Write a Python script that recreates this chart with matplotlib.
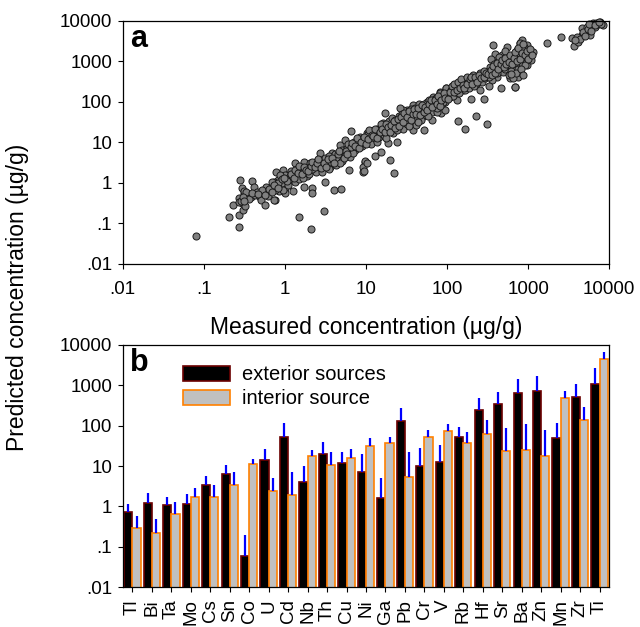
import numpy as np
import matplotlib
matplotlib.use('Agg')
import matplotlib.pyplot as plt
from matplotlib.patches import Patch

# ---- panel a: measured vs predicted (log10 of ug/g) ----
meas_log10 = [
    -1.10, -0.56, -0.69, -0.56, -0.64, -0.55, -0.40, -0.38, -0.53, -0.51, -0.56, -0.49,
    -0.53, -0.52, -0.47, -0.42, -0.37, -0.31, -0.26, -0.29, -0.25, -0.23, -0.19, -0.12,
    -0.18, -0.10, -0.08, -0.05, 0.00, 0.02, -0.11, -0.02, 0.03, 0.00, -0.49, -0.57,
    -0.54, -0.50, -0.45, -0.35, -0.28, -0.21, -0.15, -0.07, -0.03, -0.14,
    -0.14, -0.02, -0.12, -0.16, 0.00, -0.08, 0.06, 0.12, 0.19, 0.23, 0.27, 0.12,
    0.04, 0.10, 0.23, 0.33, 0.34, 0.35, 0.43, 0.47, 0.49, 0.56, 0.58, 0.60,
    0.69, 0.64, 0.68, 0.72, 0.74, 0.80, 0.82, 0.84, 0.88, 0.93, 0.96, 0.99,
    0.79, 1.01, 0.48, 0.32, 0.17,
    -0.06, 0.05, 0.08, 0.14, 0.17, 0.20, 0.25, 0.28, 0.30, 0.31, 0.36, 0.38,
    0.40, 0.42, 0.45, 0.50, 0.52, 0.54, 0.55, 0.60, 0.62, 0.63, 0.66, 0.70,
    0.71, 0.74, 0.76, 0.78, 0.82, 0.85, 0.87, 0.90, 0.92, 0.95, 0.97, 0.15,
    0.22, 0.09, 0.33, 0.46, 0.57, 0.68,
    1.23, 1.29, 1.34, 1.11, 1.18, 0.99, 0.96, 1.38, 1.27, 0.88, 1.01, 1.13,
    1.21, 1.33, 1.42, 1.50, 1.58, 1.66, 1.75, 1.83, 1.91, 1.99, 1.89, 1.79,
    1.69, 1.71, 1.58, 1.46, 1.33, 1.21, 1.05, 0.92, 0.84, 1.46, 1.42, 1.56,
    1.62, 1.81, 1.95, 2.01, 1.93, 1.85, 0.97, 1.01,
    1.03, 1.06, 1.08, 1.10, 1.12, 1.15, 1.16, 1.19, 1.22, 1.24, 1.26, 1.28,
    1.30, 1.32, 1.35, 1.36, 1.38, 1.40, 1.41, 1.44, 1.45, 1.48, 1.50, 1.52,
    1.54, 1.55, 1.57, 1.60, 1.61, 1.63, 1.65, 1.67, 1.68, 1.70, 1.72, 1.74,
    1.76, 1.78, 1.80, 1.82, 1.84, 1.86, 1.88, 1.90, 1.92, 1.94, 1.97, 1.98,
    1.06, 1.14, 1.25, 1.37, 1.49, 1.53, 1.64, 1.77, 1.87,
    2.57, 2.59, 2.54, 2.74, 2.90, 2.92, 2.96, 3.00, 2.78, 2.84, 2.66, 2.46,
    2.36, 2.49, 2.13, 2.22, 1.83, 1.91, 1.99, 2.08, 2.16, 2.24, 2.32, 2.41,
    2.49, 2.57, 2.65, 2.74, 2.82, 2.88, 2.94, 2.69, 2.61, 2.55, 2.28, 2.20,
    2.04, 1.95, 1.87, 1.97, 2.12, 2.36, 2.30, 2.86, 2.80, 2.68, 2.98,
    2.02, 2.05, 2.07, 2.10, 2.11, 2.14, 2.15, 2.18, 2.19, 2.22, 2.23, 2.26,
    2.27, 2.30, 2.33, 2.34, 2.38, 2.40, 2.43, 2.44, 2.47, 2.50, 2.52, 2.53,
    2.56, 2.58, 2.60, 2.62, 2.63, 2.67, 2.70, 2.72, 2.75, 2.77, 2.79, 2.81,
    2.83, 2.85, 2.87, 2.89, 2.91, 2.93, 2.95, 2.97, 2.99, 3.01, 2.71, 2.64,
    2.76, 2.87, 2.52, 2.40,
    3.23, 3.40, 3.54, 3.56, 3.62, 3.66, 3.70, 3.76, 3.78, 3.82, 3.86, 3.92,
    3.66, 3.72, 3.80, 3.60, 2.90, 2.94, 3.02, 3.06, 2.86, 2.92, 2.90, 2.81,
    2.84, 2.98, 3.04, 2.96,
    3.68, 3.74, 3.77, 3.84, 3.88, 3.90, 3.64, 3.58, 3.70, 3.75, 3.83, 3.87,
    0.02, 0.07, 0.11, 0.13, 0.16, 0.18, 0.21, 0.24, 0.26, 0.29, 0.32, 0.34,
    0.37, 0.39, 0.41, 0.44, 0.48, 0.51, 0.53, 0.58, 0.61, 0.65, 0.67, 0.73,
    0.75, 0.77, 0.81, 0.83, 0.86, 0.89, 0.91, 0.94, 0.98, 1.00,
    1.02, 1.04, 1.07, 1.09, 1.11, 1.13, 1.17, 1.18, 1.20, 1.23, 1.25, 1.27,
    1.29, 1.31, 1.34, 1.36, 1.39, 1.41, 1.43, 1.46, 1.47, 1.51, 1.53, 1.56,
    1.58, 1.59, 1.62, 1.64, 1.66, 1.69, 1.71, 1.73, 1.75, 1.78, 1.80, 1.82,
    1.85, 1.87, 1.89, 1.91, 1.93, 1.96, 1.98,
    2.01, 2.03, 2.06, 2.08, 2.09, 2.12, 2.13, 2.16, 2.17, 2.20, 2.21, 2.24,
    2.25, 2.28, 2.29, 2.31, 2.35, 2.37, 2.39, 2.42, 2.45, 2.46, 2.48, 2.51,
    2.54, 2.55, 2.57, 2.59, 2.61, 2.63, 2.66, 2.68, 2.70, 2.72, 2.73, 2.76,
    2.78, 2.80, 2.82, 2.84, 2.86, 2.88, 2.90, 2.92, 2.94, 2.96, 2.98, 3.00,
    3.02, 3.05, 2.85, 2.91, 2.79, 2.93,
    -0.48, -0.44, -0.40, -0.33, -0.24, -0.20, -0.16, -0.13, -0.09, -0.04, -0.01, -0.52,
    -0.50,
]
pred_log10 = [
    -1.32, -1.09, -0.84, -0.80, -0.54, 0.07, 0.04, -0.09, -0.12, -0.25, -0.38, -0.38,
    -0.50, -0.66, -0.32, -0.34, -0.30, -0.34, -0.25, -0.42, -0.54, -0.11, -0.25, -0.42,
    -0.17, -0.07, 0.07, -0.05, -0.13, 0.09, 0.28, 0.32, 0.20, -0.25, -0.58, -0.46,
    -0.44, -0.20, -0.28, -0.22, -0.18, -0.32, -0.10, -0.20, 0.00, 0.02,
    -0.43, -0.17, -0.17, 0.03, 0.20, -0.01, 0.16, 0.48, 0.28, 0.52, 0.16, 0.03,
    -0.05, -0.21, -0.09, -0.13, -0.24, 0.32, 0.73, 0.57, 0.03, 0.40, 0.73, -0.17,
    -0.16, 0.52, 0.93, 0.73, 1.06, 0.65, 1.29, 0.89, 1.02, 1.14, 0.28, 0.52,
    0.32, 1.22, -0.69, -1.14, -0.85,
    0.20, 0.10, 0.30, 0.20, 0.10, 0.38, 0.25, 0.40, 0.22, 0.50, 0.45, 0.28,
    0.55, 0.38, 0.45, 0.62, 0.48, 0.35, 0.66, 0.58, 0.72, 0.45, 0.62, 0.80,
    0.55, 0.68, 0.85, 0.95, 0.78, 1.00, 0.82, 0.95, 1.08, 0.90, 1.05, 0.35,
    0.12, 0.18, 0.35, 0.26, 0.52, 0.48,
    1.73, 0.56, 0.24, 0.66, 0.76, 0.55, 0.40, 1.02, 0.99, 1.02, 1.14, 1.34,
    1.26, 1.47, 1.59, 1.80, 1.92, 1.88, 2.00, 2.13, 2.25, 2.33, 1.96, 1.80,
    1.63, 1.30, 1.30, 1.34, 1.22, 1.47, 1.02, 0.89, 0.73, 1.80, 1.84, 1.67,
    1.43, 1.55, 2.05, 2.21, 1.72, 1.88, 0.30, 0.50,
    1.20, 1.10, 1.28, 1.05, 1.20, 1.30, 1.12, 1.38, 1.18, 1.40, 1.30, 1.52,
    1.35, 1.60, 1.42, 1.55, 1.30, 1.48, 1.65, 1.52, 1.70, 1.60, 1.45, 1.70,
    1.58, 1.82, 1.75, 1.62, 1.85, 1.72, 1.95, 1.78, 1.55, 1.85, 1.95, 1.72,
    1.88, 2.05, 1.92, 1.75, 2.00, 2.10, 1.85, 2.08, 2.15, 1.95, 2.12, 2.00,
    0.95, 1.00, 1.10, 1.40, 1.55, 1.40, 1.50, 1.65, 1.75,
    3.40, 3.19, 3.05, 3.36, 3.44, 3.52, 3.28, 3.20, 2.58, 2.37, 2.33, 2.08,
    1.65, 1.45, 1.53, 1.32, 2.04, 2.21, 2.33, 2.41, 2.45, 2.54, 2.66, 2.62,
    2.66, 2.78, 2.91, 2.95, 2.87, 3.03, 2.95, 2.74, 2.62, 2.54, 2.41, 2.29,
    2.12, 2.00, 1.84, 1.80, 2.04, 2.45, 2.08, 3.28, 3.11, 3.15, 3.40,
    2.20, 2.30, 2.15, 2.35, 2.25, 2.40, 2.22, 2.38, 2.50, 2.30, 2.45, 2.55,
    2.35, 2.50, 2.40, 2.58, 2.55, 2.70, 2.50, 2.68, 2.58, 2.75, 2.60, 2.85,
    2.68, 2.92, 2.80, 2.70, 3.00, 2.85, 2.95, 2.80, 3.05, 2.90, 2.75, 3.00,
    3.15, 2.95, 2.80, 3.15, 2.90, 3.10, 3.35, 3.05, 2.90, 3.10, 3.25, 3.10,
    2.65, 2.60, 2.40, 2.30,
    3.44, 3.59, 3.58, 3.38, 3.48, 3.65, 3.77, 3.65, 3.89, 3.85, 3.92, 3.89,
    3.81, 3.85, 3.95, 3.61, 3.44, 3.28, 3.24, 3.24, 3.11, 2.95, 2.74, 2.58,
    2.37, 3.11, 3.03, 2.91,
    3.72, 3.80, 3.75, 3.95, 3.97, 3.93, 3.55, 3.52, 3.62, 3.92, 3.90, 3.96,
    0.05, 0.22, 0.12, 0.32, 0.25, 0.42, 0.22, 0.40, 0.32, 0.30, 0.42, 0.52,
    0.38, 0.48, 0.60, 0.36, 0.50, 0.40, 0.58, 0.62, 0.50, 0.70, 0.78, 0.62,
    0.78, 0.70, 0.88, 0.98, 0.92, 1.10, 0.85, 1.00, 1.12, 0.95,
    1.08, 1.30, 1.18, 1.15, 1.32, 1.10, 1.25, 1.45, 1.33, 1.25, 1.45, 1.38,
    1.25, 1.42, 1.52, 1.35, 1.58, 1.40, 1.62, 1.50, 1.72, 1.62, 1.78, 1.55,
    1.70, 1.82, 1.70, 1.85, 1.68, 1.92, 1.75, 1.88, 1.80, 1.95, 2.05, 1.88,
    2.05, 1.95, 2.15, 1.90, 2.05, 2.22, 2.10,
    2.08, 2.25, 2.38, 2.25, 2.45, 2.30, 2.48, 2.35, 2.55, 2.42, 2.35, 2.60,
    2.45, 2.55, 2.62, 2.45, 2.62, 2.50, 2.65, 2.58, 2.75, 2.62, 2.72, 2.68,
    2.78, 2.65, 2.88, 2.72, 2.95, 2.82, 2.92, 3.02, 2.85, 3.08, 2.92, 2.98,
    3.15, 2.92, 3.08, 3.22, 3.00, 3.32, 3.05, 3.20, 3.42, 3.15, 3.25, 3.05,
    3.30, 3.15, 2.70, 2.80, 2.68, 2.65,
    -0.22, -0.40, -0.26, -0.28, -0.30, -0.15, -0.22, -0.05, -0.12, 0.10, 0.13, -0.35,
    -0.45,
]

# ---- panel b: source contributions by element ----
elements = ['Tl', 'Bi', 'Ta', 'Mo', 'Cs', 'Sn', 'Co', 'U', 'Cd', 'Nb', 'Th', 'Cu', 'Ni',
            'Ga', 'Pb', 'Cr', 'V', 'Rb', 'Hf', 'Sr', 'Ba', 'Zn', 'Mn', 'Zr', 'Ti']
exterior = [0.72, 1.2, 1.08, 1.14, 3.4, 6.2, 0.06, 13.9, 52.5, 4.0, 19.6, 11.7, 7.3,
            1.6, 130, 9.9, 12.7, 51.5, 248, 336, 627, 731, 50.5, 520, 1050]
exterior_hi = [1.16, 2.2, 1.73, 2.0, 5.6, 10.7, 0.2, 26.5, 116, 9.9, 39.5, 21.6, 20,
               5.1, 278, 27.5, 33, 91, 491, 664, 1450, 1700, 116, 1070, 2700]
interior = [0.29, 0.22, 0.65, 1.7, 1.67, 3.4, 11.1, 2.4, 1.87, 17.2, 10.7, 16.2, 31.5,
            37.3, 5.3, 53.5, 72.5, 36.6, 63.5, 23.2, 25.5, 17.2, 473, 135, 4350]
interior_hi = [0.59, 0.50, 1.28, 2.9, 3.4, 7.0, 15.3, 5.2, 7.2, 25, 22.8, 27, 49.6,
               52, 22.4, 78, 108, 70, 135, 87.8, 112, 79, 718, 290, 6600]

yticks = [0.01, 0.1, 1, 10, 100, 1000, 10000]
ytick_labels = ['.01', '.1', '1', '10', '100', '1000', '10000']

plt.rcParams['font.family'] = ['Liberation Sans', 'DejaVu Sans']
plt.rcParams['xtick.direction'] = 'out'
plt.rcParams['ytick.direction'] = 'out'

fig = plt.figure(figsize=(6.4, 6.27), dpi=100)
ax_a = fig.add_axes([0.1917, 0.579, 0.7603, 0.388])
ax_b = fig.add_axes([0.1917, 0.0633, 0.7603, 0.3869])

# panel a
ax_a.scatter(10 ** np.array(meas_log10), 10 ** np.array(pred_log10), s=26,
             facecolor='#808080', edgecolor='#1a1a1a', linewidth=0.7, zorder=2, clip_on=False)
ax_a.set_xscale('log')
ax_a.set_yscale('log')
ax_a.set_xlim(0.01, 10000)
ax_a.set_ylim(0.01, 10000)
ax_a.set_xticks(yticks, ytick_labels)
ax_a.set_yticks(yticks, ytick_labels)
ax_a.minorticks_off()
ax_a.tick_params(labelsize=13.5, length=3.5, width=0.8)
ax_a.tick_params(axis='x', pad=9)
ax_a.tick_params(axis='y', pad=4)
ax_a.set_xlabel('Measured concentration (µg/g)', fontsize=16.5, labelpad=13)
ax_a.text(0.015, 0.985, 'a', transform=ax_a.transAxes, fontsize=22, fontweight='bold',
          va='top', ha='left')

# panel b
x = np.arange(len(elements))
w = 0.42
ext = np.array(exterior)
intr = np.array(interior)
ax_b.bar(x - w, ext - 1e-3, width=w, bottom=1e-3, align='edge', color='black',
         edgecolor='#6b0000', linewidth=1.2, zorder=2)
ax_b.bar(x, intr - 1e-3, width=w, bottom=1e-3, align='edge', color='#c0c0c0',
         edgecolor='#ff8000', linewidth=1.2, zorder=2)
ax_b.vlines(x - w / 2, ext, exterior_hi, color='#0000ff', linewidth=1.6, zorder=3)
ax_b.vlines(x + w / 2, intr, interior_hi, color='#0000ff', linewidth=1.6, zorder=3)
ax_b.set_yscale('log')
ax_b.set_ylim(0.01, 10000)
ax_b.set_xlim(-0.5, len(elements) - 0.5)
ax_b.set_yticks(yticks, ytick_labels)
ax_b.set_xticks(x, elements, rotation=90)
ax_b.minorticks_off()
ax_b.tick_params(labelsize=13.5, length=3.5, width=0.8)
ax_b.tick_params(axis='x', pad=5)
ax_b.tick_params(axis='y', pad=4)
ax_b.text(0.015, 0.985, 'b', transform=ax_b.transAxes, fontsize=22, fontweight='bold',
          va='top', ha='left')
handles = [Patch(facecolor='black', edgecolor='#6b0000', linewidth=1.2, label='exterior sources'),
           Patch(facecolor='#c0c0c0', edgecolor='#ff8000', linewidth=1.2, label='interior source')]
ax_b.legend(handles=handles, loc='upper left', bbox_to_anchor=(0.1, 0.965), frameon=False,
            fontsize=14.5, handlelength=2.3, handleheight=0.8, labelspacing=0.25,
            handletextpad=0.6, borderaxespad=0.2)

for ax in (ax_a, ax_b):
    for sp in ax.spines.values():
        sp.set_linewidth(0.9)

fig.text(0.028, 0.525, 'Predicted concentration (µg/g)', rotation=90, va='center',
         ha='center', fontsize=16.5)

fig.savefig('out.png', dpi=100)
